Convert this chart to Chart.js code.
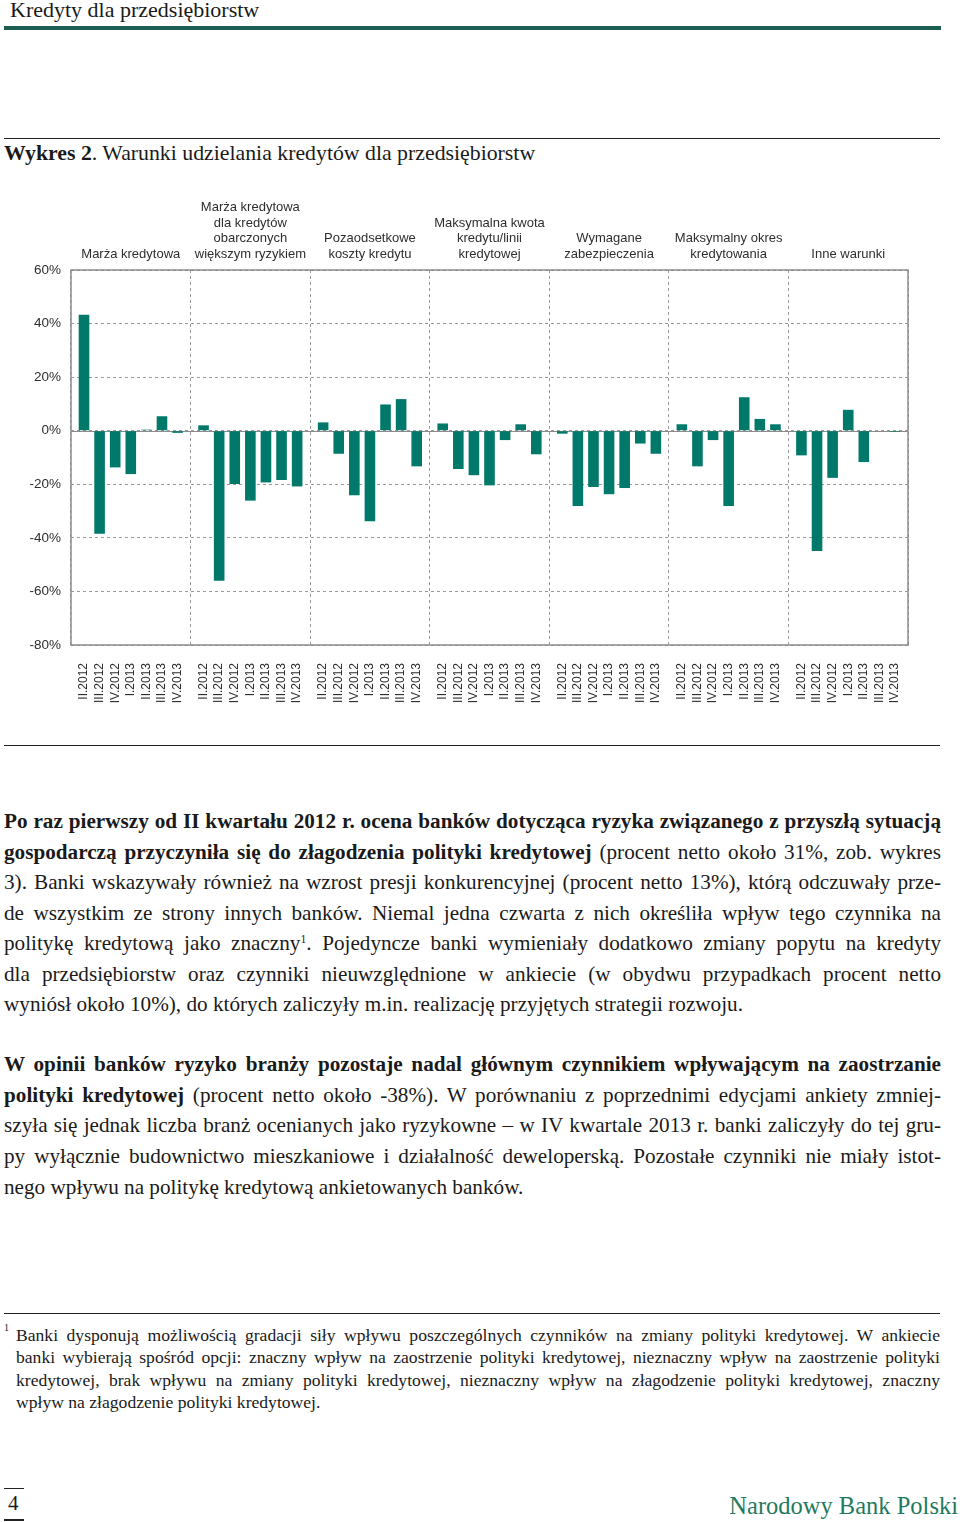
<!DOCTYPE html>
<html lang="pl">
<head>
<meta charset="utf-8">
<script src="https://cdn.jsdelivr.net/npm/chart.js@4"></script>
<style>
  html, body { margin: 0; padding: 0; background: #fff; }
  body { width: 960px; height: 1522px; position: relative; overflow: hidden;
         font-family: "Liberation Serif", "DejaVu Serif", serif; color: #1a1a1a; }
  .abs { position: absolute; }
  .hr { position: absolute; left: 4px; width: 936px; height: 1px; background: #222; }
  .ln { position: absolute; left: 4px; width: 937px; height: 30px; line-height: 30px;
        font-size: 21.2px; white-space: nowrap; text-align: justify; text-align-last: justify; }
  .ln.last { text-align: left; text-align-last: left; }
  .fn { position: absolute; left: 16px; width: 924px; height: 22px; line-height: 22px;
        font-size: 17.6px; white-space: nowrap; text-align: justify; text-align-last: justify; }
  .fn.last { text-align: left; text-align-last: left; }
  sup { font-size: 0.55em; line-height: 0; vertical-align: 0.6em; }
  #chartBox { position: absolute; left: 0; top: 190px; width: 960px; height: 535px; }
</style>
</head>
<body>

<div class="abs" style="left:10px; top:-4px; font-size:22px; line-height:28px;">Kredyty dla przedsiębiorstw</div>
<div class="abs" style="left:4px; top:26px; width:937px; height:4px; background:#1d5e52;"></div>

<div class="hr" style="top:138px;"></div>
<div class="abs" style="left:4px; top:139px; font-size:21.8px; line-height:28px;"><b>Wykres 2</b>. Warunki udzielania kredytów dla przedsiębiorstw</div>

<div id="chartBox"><canvas id="chart"></canvas></div>

<div class="hr" style="top:745px;"></div>

<div class="ln" style="top:806px;"><b>Po raz pierwszy od II kwartału 2012 r. ocena banków dotycząca ryzyka związanego z przyszłą sytuacją</b></div>
<div class="ln" style="top:837px;"><b>gospodarczą przyczyniła się do złagodzenia polityki kredytowej</b> (procent netto około 31%, zob. wykres</div>
<div class="ln" style="top:867px;">3). Banki wskazywały również na wzrost presji konkurencyjnej (procent netto 13%), którą odczuwały prze-</div>
<div class="ln" style="top:898px;">de wszystkim ze strony innych banków. Niemal jedna czwarta z nich określiła wpływ tego czynnika na</div>
<div class="ln" style="top:928px;">politykę kredytową jako znaczny<sup>1</sup>. Pojedyncze banki wymieniały dodatkowo zmiany popytu na kredyty</div>
<div class="ln" style="top:959px;">dla przedsiębiorstw oraz czynniki nieuwzględnione w ankiecie (w obydwu przypadkach procent netto</div>
<div class="ln last" style="top:989px;">wyniósł około 10%), do których zaliczyły m.in. realizację przyjętych strategii rozwoju.</div>

<div class="ln" style="top:1049px;"><b>W opinii banków ryzyko branży pozostaje nadal głównym czynnikiem wpływającym na zaostrzanie</b></div>
<div class="ln" style="top:1080px;"><b>polityki kredytowej</b> (procent netto około -38%). W porównaniu z poprzednimi edycjami ankiety zmniej-</div>
<div class="ln" style="top:1110px;">szyła się jednak liczba branż ocenianych jako ryzykowne – w IV kwartale 2013 r. banki zaliczyły do tej gru-</div>
<div class="ln" style="top:1141px;">py wyłącznie budownictwo mieszkaniowe i działalność deweloperską. Pozostałe czynniki nie miały istot-</div>
<div class="ln last" style="top:1172px;">nego wpływu na politykę kredytową ankietowanych banków.</div>

<div class="hr" style="top:1313px;"></div>
<div class="abs" style="left:4px; top:1322px; font-size:10px; line-height:12px;">1</div>
<div class="fn" style="top:1324px;">Banki dysponują możliwością gradacji siły wpływu poszczególnych czynników na zmiany polityki kredytowej. W ankiecie</div>
<div class="fn" style="top:1346px;">banki wybierają spośród opcji: znaczny wpływ na zaostrzenie polityki kredytowej, nieznaczny wpływ na zaostrzenie polityki</div>
<div class="fn" style="top:1369px;">kredytowej, brak wpływu na zmiany polityki kredytowej, nieznaczny wpływ na złagodzenie polityki kredytowej, znaczny</div>
<div class="fn last" style="top:1391px;">wpływ na złagodzenie polityki kredytowej.</div>

<div class="abs" style="left:4px; top:1488px; width:20px; height:1px; background:#222;"></div>
<div class="abs" style="left:8px; top:1490px; font-size:21px; line-height:26px;">4</div>
<div class="abs" style="left:4px; top:1519px; width:20px; height:2px; background:#222;"></div>
<div class="abs" style="right:2px; top:1491px; font-size:24.5px; line-height:30px; color:#1f7a5e;">Narodowy Bank Polski</div>

<script>
// kwartały i nazwy grup (czynników)
const quarters = ['II.2012', 'III.2012', 'IV.2012', 'I.2013', 'II.2013', 'III.2013', 'IV.2013']
const groupNames = [
  ['Marża kredytowa'],
  ['Marża kredytowa', 'dla kredytów', 'obarczonych', 'większym ryzykiem'],
  ['Pozaodsetkowe', 'koszty kredytu'],
  ['Maksymalna kwota', 'kredytu/linii', 'kredytowej'],
  ['Wymagane', 'zabezpieczenia'],
  ['Maksymalny okres', 'kredytowania'],
  ['Inne warunki']
]

// procent netto, kolejne kwartały II.2012 - IV.2013
const marza = [43.3, -38.5, -13.7, -16.2, 0.4, 5.4, -0.8]
const marzaRyzyko = [2.0, -56.0, -19.9, -26.1, -19.3, -18.4, -20.8]
const pozaodsetkowe = [3.1, -8.6, -24.1, -33.8, 9.8, 11.8, -13.3]
const maksKwota = [2.7, -14.3, -16.6, -20.4, -3.5, 2.4, -8.8]
const zabezpieczenia = [-1.1, -28.1, -21.0, -23.7, -21.4, -4.8, -8.6]
const maksOkres = [2.4, -13.3, -3.5, -28.1, 12.5, 4.4, 2.4]
const inneWarunki = [-9.2, -44.9, -17.6, 7.8, -11.7, 0, -0.4]

const yTicks = [60, 40, 20, 0, -20, -40, -60, -80]

const groupValues = [marza, marzaRyzyko, pozaodsetkowe, maksKwota, zabezpieczenia, maksOkres, inneWarunki]
const barColor = '#00786a'
const gridColor = '#9a9a9a'
const textColor = '#2e2e2e'

// one dataset per quarter, bars grouped by factor
const datasets = quarters.map((q, qi) => ({
  label: q,
  data: groupValues.map(g => g[qi]),
  backgroundColor: barColor,
  borderWidth: 0,
  categoryPercentage: 0.913,
  barPercentage: 0.68
}))

// solid frame + zero line, and quarter labels under every bar
const framePlugin = {
  id: 'frame',
  beforeDatasetsDraw(chart) {
    const { ctx, chartArea: a, scales: { y } } = chart
    ctx.save()
    ctx.strokeStyle = '#8c8c8c'
    ctx.lineWidth = 1
    ctx.setLineDash([])
    const y0 = Math.round(y.getPixelForValue(0)) + 0.5
    ctx.beginPath()
    ctx.moveTo(a.left, y0)
    ctx.lineTo(a.right, y0)
    ctx.stroke()
    ctx.lineWidth = 1.5
    ctx.strokeRect(a.left, a.top, a.right - a.left, a.bottom - a.top)
    ctx.restore()
  },
  afterDraw(chart) {
    const { ctx, chartArea: a } = chart
    ctx.save()
    ctx.fillStyle = textColor
    ctx.font = '12px "Liberation Sans", Arial, sans-serif'
    ctx.textAlign = 'right'
    ctx.textBaseline = 'middle'
    chart.data.datasets.forEach((ds, di) => {
      chart.getDatasetMeta(di).data.forEach(bar => {
        ctx.save()
        ctx.translate(bar.x, a.bottom + 18)
        ctx.rotate(-Math.PI / 2)
        ctx.fillText(ds.label, 0, 0)
        ctx.restore()
      })
    })
    ctx.restore()
  }
}

new Chart(document.getElementById('chart'), {
  type: 'bar',
  data: { labels: groupNames, datasets },
  options: {
    responsive: true,
    maintainAspectRatio: false,
    animation: false,
    layout: { padding: { left: 0, right: 52, top: 0, bottom: 80 } },
    plugins: { legend: { display: false }, tooltip: { enabled: false } },
    scales: {
      x: {
        position: 'top',
        afterFit(scale) { scale.height = 80 },
        grid: { color: gridColor, lineWidth: 1, drawTicks: false, offset: true },
        border: { display: false, dash: [3, 3] },
        ticks: {
          color: textColor,
          font: { family: '"Liberation Sans", Arial, sans-serif', size: 13 },
          maxRotation: 0,
          autoSkip: false,
          padding: 8
        }
      },
      y: {
        min: -80,
        max: 60,
        afterFit(scale) { scale.width = 71 },
        afterBuildTicks(scale) { scale.ticks = yTicks.map(v => ({ value: v })) },
        grid: { color: gridColor, lineWidth: 1, drawTicks: false },
        border: { display: false, dash: [3, 3] },
        ticks: {
          color: textColor,
          font: { family: '"Liberation Sans", Arial, sans-serif', size: 13.5 },
          padding: 10,
          callback: v => v + '%'
        }
      }
    }
  },
  plugins: [framePlugin]
})
</script>
</body>
</html>
